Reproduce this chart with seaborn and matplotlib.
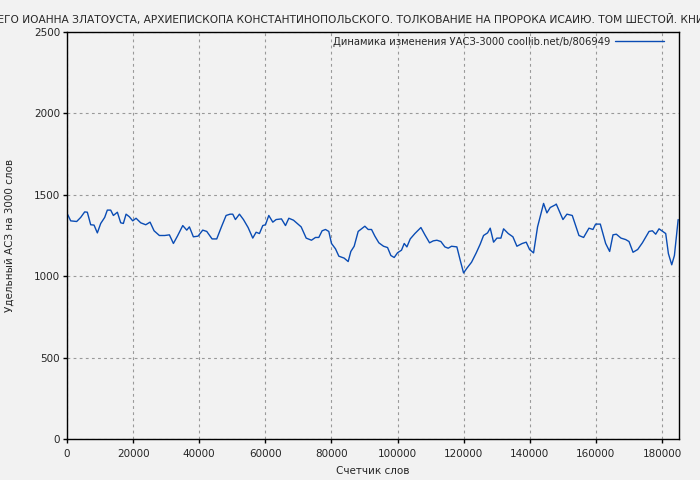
import pandas as pd
import seaborn as sns
import matplotlib.pyplot as plt

title = ("ТВОРЕНИЯ ИЖЕ ВО СВЯТЫХ ОТЦА НАШЕГО ИОАННА ЗЛАТОУСТА, АРХИЕПИСКОПА "
         "КОНСТАНТИНОПОЛЬСКОГО. ТОЛКОВАНИЕ НА ПРОРОКА ИСАИЮ. ТОМ ШЕСТОЙ. КНИГА ПЕРВАЯ")
series_name = "Динамика изменения УАСЗ-3000 coollib.net/b/806949"

words = [
    0, 300, 1110, 2930, 4140, 5350, 6150, 7170, 8180, 9180, 10200, 11400, 12200,
    13220, 14030, 15240, 16250, 17050, 17870, 18870, 19880, 20890, 22300, 23820,
    25130, 26340, 27950, 29570, 30980, 32190, 33400, 35020, 36230, 37030, 38230,
    39650, 41060, 42280, 43890, 45300, 46720, 48130, 49340, 50150, 50950, 52170,
    53380, 54790, 56200, 57210, 58220, 59230, 60040, 61050, 62260, 63270, 64880,
    66100, 67110, 68520, 70840, 72360, 73960, 75170, 76180, 77180, 78200, 79200,
    80020, 81230, 82240, 83850, 85060, 85870, 86880, 88090, 90110, 91120, 92130,
    93140, 94350, 95760, 96980, 97980, 98990, 100000, 101200, 102020, 102830,
    103840, 105250, 107070, 108280, 109690, 110800, 111900, 113110, 114320,
    115330, 116340, 117950, 118960, 119970, 120980, 122390, 123800, 125010,
    126020, 127230, 128040, 129050, 130060, 131270, 132080, 133490, 134900,
    136110, 137720, 138930, 139940, 141150, 142360, 144180, 145190, 146200,
    147710, 148020, 150040, 151250, 152860, 154880, 156290, 157910, 159120,
    159930, 161340, 162960, 164170, 165180, 166190, 167600, 169020, 170030,
    171240, 172650, 174070, 176090, 177100, 178100, 179110, 181130, 181940,
    182950, 183760, 184370, 184900,
]
uasz = [
    1385, 1375, 1340, 1336, 1361, 1395, 1393, 1316, 1314, 1266, 1324, 1361, 1406,
    1406, 1373, 1393, 1328, 1324, 1381, 1365, 1340, 1356, 1328, 1316,
    1332, 1279, 1250, 1250, 1254, 1201, 1246, 1311, 1283, 1303, 1242,
    1246, 1283, 1275, 1229, 1229, 1303, 1373, 1381, 1381, 1348, 1381,
    1348, 1299, 1234, 1270, 1262, 1311, 1316, 1373, 1332, 1348, 1352,
    1311, 1356, 1344, 1303, 1234, 1221, 1238, 1238, 1279, 1287, 1275,
    1201, 1168, 1123, 1111, 1090, 1152, 1184, 1275, 1307, 1287, 1287,
    1246, 1205, 1184, 1176, 1127, 1115, 1144, 1160, 1201, 1180,
    1229, 1262, 1299, 1254, 1205, 1217, 1221, 1213, 1180,
    1172, 1184, 1180, 1098, 1020, 1049, 1086, 1143, 1197,
    1250, 1266, 1295, 1209, 1234, 1234, 1291, 1262, 1242,
    1184, 1201, 1209, 1164, 1143, 1303, 1447, 1389, 1422,
    1438, 1443, 1348, 1381, 1373, 1250, 1238, 1295, 1287,
    1320, 1320, 1201, 1152, 1254, 1258, 1234, 1225, 1213,
    1147, 1164, 1205, 1275, 1279, 1258, 1291, 1262, 1139,
    1070, 1127, 1242, 1348,
]

df = pd.DataFrame({"words": words, "uasz": uasz})

sns.set_style("whitegrid")
plt.rcParams["font.family"] = ["DejaVu Sans"]
plt.rcParams["xtick.major.pad"] = 4
plt.rcParams["ytick.major.pad"] = 2

fig = plt.figure(figsize=(7, 4.8), dpi=100, facecolor="#f2f2f2")
ax = fig.add_axes([67 / 700, 1 - 439 / 480, 612 / 700, 407 / 480])
ax.set_facecolor("#f2f2f2")

sns.lineplot(data=df, x="words", y="uasz", ax=ax, color="#0a4cb4",
             linewidth=1, label=series_name)

ax.set_xlim(0, 185150)
ax.set_ylim(0, 2500)
ax.set_xticks(range(0, 180001, 20000))
ax.set_yticks(range(0, 2501, 500))
ax.grid(True, color="#999999", linestyle=(0, (2.5, 3)), linewidth=0.8)
for s in ax.spines.values():
    s.set_color("black")
    s.set_linewidth(1)
ax.tick_params(axis="both", labelsize=7.5, length=3, width=1,
               color="black", direction="out", left=True, bottom=True)
ax.set_xlabel("Счетчик слов", fontsize=7.5, labelpad=5.5)
ax.set_ylabel("Удельный АСЗ на 3000 слов", fontsize=7.5, labelpad=14)

# long title runs off both edges like the original
fig.text(271 / 700, 1 - 18 / 480, title, ha="center", va="center", fontsize=7.7)

leg = ax.legend(loc="upper right", bbox_to_anchor=(1 - 9 / 612, 1 + 1 / 407),
                frameon=False, markerfirst=False, fontsize=7.2,
                handlelength=4.9, handletextpad=0.5, borderaxespad=0.2)

fig.savefig("out.png", dpi=100, facecolor=fig.get_facecolor())
